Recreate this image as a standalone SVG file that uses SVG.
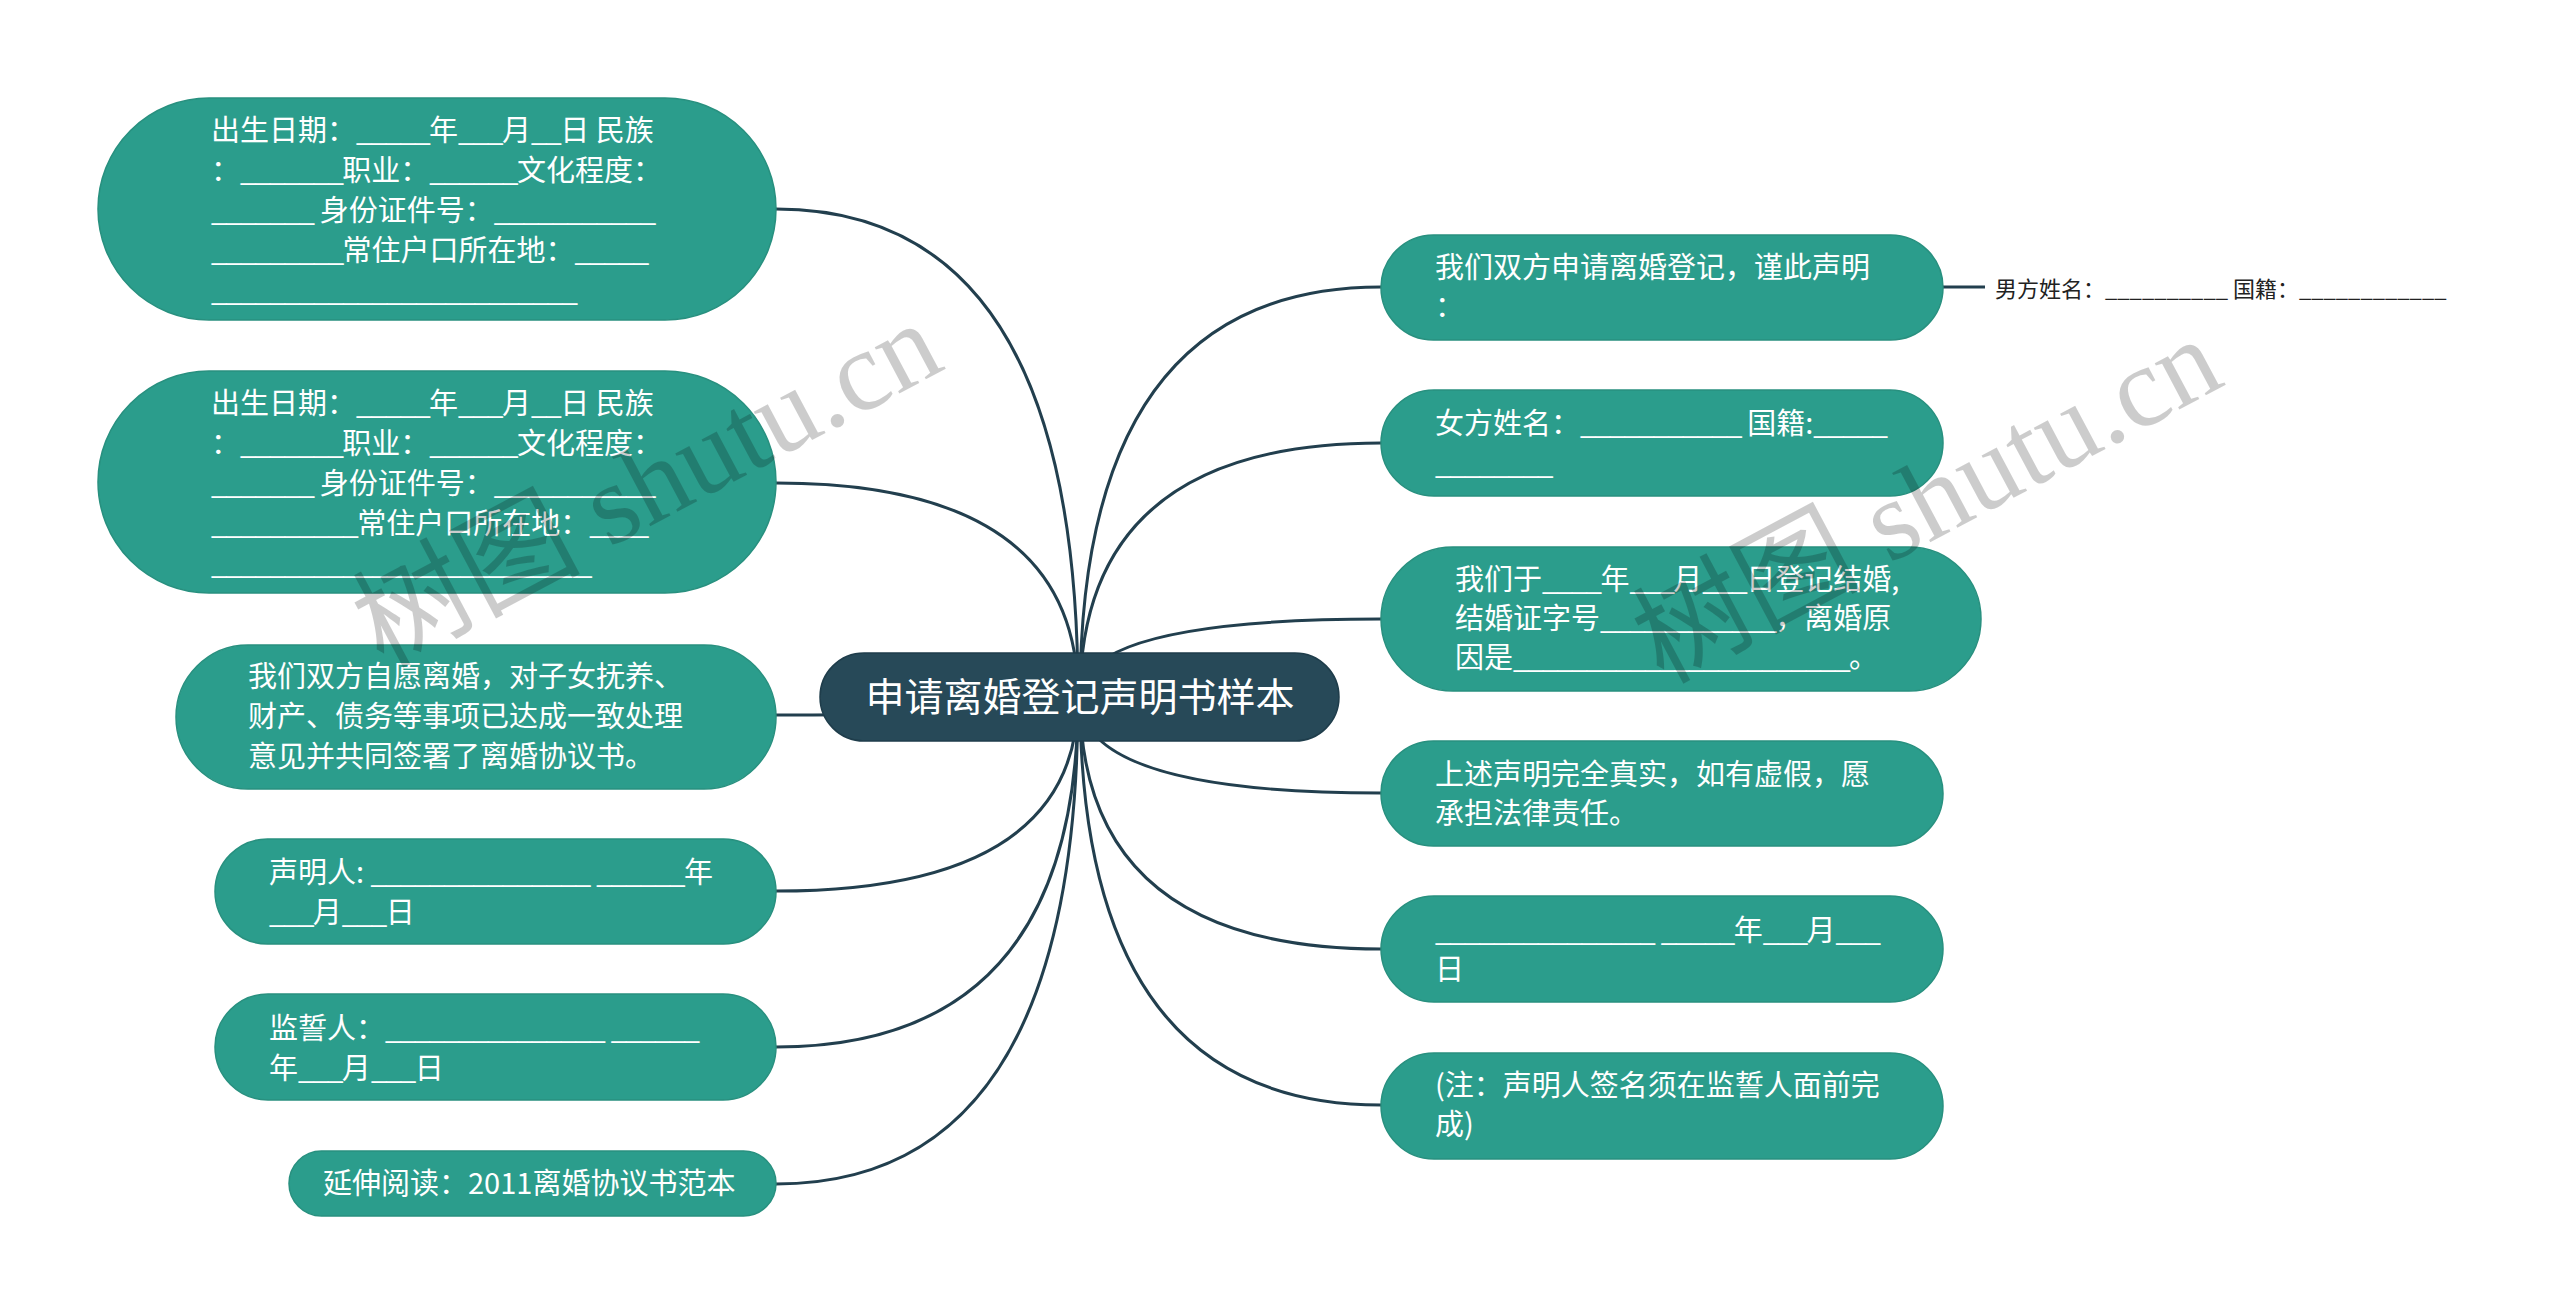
<svg xmlns="http://www.w3.org/2000/svg" width="2560" height="1316" viewBox="0 0 2560 1316">
<style>
.n{fill:#2b9d8c;stroke:#28907f;stroke-width:1.5}
.root{fill:#274958;stroke:#1f3d4b;stroke-width:1.5}
.t{font-family:"Noto Sans CJK SC","Noto Sans",sans-serif;font-size:29px;fill:#ffffff}
.u{letter-spacing:-1.6px}
.rt{font-family:"Noto Sans CJK SC","Noto Sans",sans-serif;font-size:39px;fill:#ffffff}
.st{font-family:"Noto Sans CJK SC","Noto Sans",sans-serif;font-size:22px;fill:#222222}
.c{fill:none;stroke:#223f4e;stroke-width:3}
.wm{font-family:"Liberation Serif","Noto Sans CJK SC",serif;font-size:114px;fill:#000000;fill-opacity:0.2}
</style>
<rect width="2560" height="1316" fill="#ffffff"/>
<g id="connectors">
<path class="c" d="M1078 697 Q1078 209 776 209"/>
<path class="c" d="M1078 697 Q1078 483 776 483"/>
<path class="c" d="M1078 697 Q1078 715 776 715"/>
<path class="c" d="M1078 697 Q1078 891 776 891"/>
<path class="c" d="M1078 697 Q1078 1047 776 1047"/>
<path class="c" d="M1078 697 Q1078 1184 776 1184"/>
<path class="c" d="M1080 697 Q1080 287 1381 287"/>
<path class="c" d="M1080 697 Q1080 443 1381 443"/>
<path class="c" d="M1080 697 Q1080 619 1381 619"/>
<path class="c" d="M1080 697 Q1080 793 1381 793"/>
<path class="c" d="M1080 697 Q1080 949 1381 949"/>
<path class="c" d="M1080 697 Q1080 1105 1381 1105"/>
<path class="c" d="M1943 287 L1985 287"/>
</g>
<g id="root">
<rect class="root" x="820" y="653" width="519" height="88" rx="44"/>
<text class="rt" x="1080" y="711" text-anchor="middle">申请离婚登记声明书样本</text>
</g>
<g id="node-l1">
<rect class="n" x="98" y="98" width="678" height="222" rx="111"/>
<text class="t">
<tspan x="211" y="141">出生日期：<tspan class="u">_____</tspan>年<tspan class="u">___</tspan>月<tspan class="u">__</tspan>日 民族</tspan>
<tspan x="211" y="181">：<tspan class="u">_______</tspan>职业：<tspan class="u">______</tspan>文化程度：</tspan>
<tspan x="211" y="221"><tspan class="u">_______</tspan> 身份证件号：<tspan class="u">___________</tspan></tspan>
<tspan x="211" y="261"><tspan class="u">_________</tspan>常住户口所在地：<tspan class="u">_____</tspan></tspan>
<tspan x="211" y="301"><tspan class="u">_________________________</tspan></tspan>
</text>
</g>
<g id="node-l2">
<rect class="n" x="98" y="371" width="678" height="222" rx="111"/>
<text class="t">
<tspan x="211" y="414">出生日期：<tspan class="u">_____</tspan>年<tspan class="u">___</tspan>月<tspan class="u">__</tspan>日 民族</tspan>
<tspan x="211" y="454">：<tspan class="u">_______</tspan>职业：<tspan class="u">______</tspan>文化程度：</tspan>
<tspan x="211" y="494"><tspan class="u">_______</tspan> 身份证件号：<tspan class="u">___________</tspan></tspan>
<tspan x="211" y="534"><tspan class="u">__________</tspan>常住户口所在地：<tspan class="u">____</tspan></tspan>
<tspan x="211" y="574"><tspan class="u">__________________________</tspan></tspan>
</text>
</g>
<g id="node-l3">
<rect class="n" x="176" y="645" width="600" height="144" rx="72"/>
<text class="t">
<tspan x="248" y="687">我们双方自愿离婚，对子女抚养、</tspan>
<tspan x="248" y="727">财产、债务等事项已达成一致处理</tspan>
<tspan x="248" y="767">意见并共同签署了离婚协议书。</tspan>
</text>
</g>
<g id="node-l4">
<rect class="n" x="215" y="839" width="561" height="105" rx="52.5"/>
<text class="t">
<tspan x="269" y="883">声明人: <tspan class="u">_______________</tspan> <tspan class="u">______</tspan>年</tspan>
<tspan x="269" y="923"><tspan class="u">___</tspan>月<tspan class="u">___</tspan>日</tspan>
</text>
</g>
<g id="node-l5">
<rect class="n" x="215" y="994" width="561" height="106" rx="53"/>
<text class="t">
<tspan x="269" y="1039">监誓人：<tspan class="u">_______________</tspan> <tspan class="u">______</tspan></tspan>
<tspan x="269" y="1079">年<tspan class="u">___</tspan>月<tspan class="u">___</tspan>日</tspan>
</text>
</g>
<g id="node-l6">
<rect class="n" x="289" y="1151" width="487" height="65" rx="32.5"/>
<text class="t" x="323" y="1194">延伸阅读：2011离婚协议书范本</text>
</g>
<g id="node-r1">
<rect class="n" x="1381" y="235" width="562" height="105" rx="52.5"/>
<text class="t">
<tspan x="1435" y="278">我们双方申请离婚登记，谨此声明</tspan>
<tspan x="1435" y="317">：</tspan>
</text>
</g>
<g id="node-r1-child">
<text class="st" x="1995" y="297">男方姓名：__________ 国籍：____________</text>
</g>
<g id="node-r2">
<rect class="n" x="1381" y="390" width="562" height="106" rx="53"/>
<text class="t">
<tspan x="1435" y="434">女方姓名：<tspan class="u">___________</tspan> 国籍:<tspan class="u">_____</tspan></tspan>
<tspan x="1435" y="474"><tspan class="u">________</tspan></tspan>
</text>
</g>
<g id="node-r3">
<rect class="n" x="1381" y="547" width="600" height="144" rx="72"/>
<text class="t">
<tspan x="1455" y="590">我们于<tspan class="u">____</tspan>年<tspan class="u">___</tspan>月<tspan class="u">___</tspan>日登记结婚,</tspan>
<tspan x="1455" y="629">结婚证字号<tspan class="u">____________</tspan>，离婚原</tspan>
<tspan x="1455" y="668">因是<tspan class="u">_______________________</tspan>。</tspan>
</text>
</g>
<g id="node-r4">
<rect class="n" x="1381" y="741" width="562" height="105" rx="52.5"/>
<text class="t">
<tspan x="1435" y="785">上述声明完全真实，如有虚假，愿</tspan>
<tspan x="1435" y="824">承担法律责任。</tspan>
</text>
</g>
<g id="node-r5">
<rect class="n" x="1381" y="896" width="562" height="106" rx="53"/>
<text class="t">
<tspan x="1435" y="941"><tspan class="u">_______________</tspan> <tspan class="u">_____</tspan>年<tspan class="u">___</tspan>月<tspan class="u">___</tspan></tspan>
<tspan x="1435" y="980">日</tspan>
</text>
</g>
<g id="node-r6">
<rect class="n" x="1381" y="1053" width="562" height="106" rx="53"/>
<text class="t">
<tspan x="1435" y="1096">(注：声明人签名须在监誓人面前完</tspan>
<tspan x="1435" y="1135">成)</tspan>
</text>
</g>
<g id="watermarks">
<text class="wm" x="650" y="522" text-anchor="middle" transform="rotate(-28 650 490)">树图 shutu.cn</text>
<text class="wm" x="1930" y="538" text-anchor="middle" transform="rotate(-28 1930 506)">树图 shutu.cn</text>
</g>
</svg>
